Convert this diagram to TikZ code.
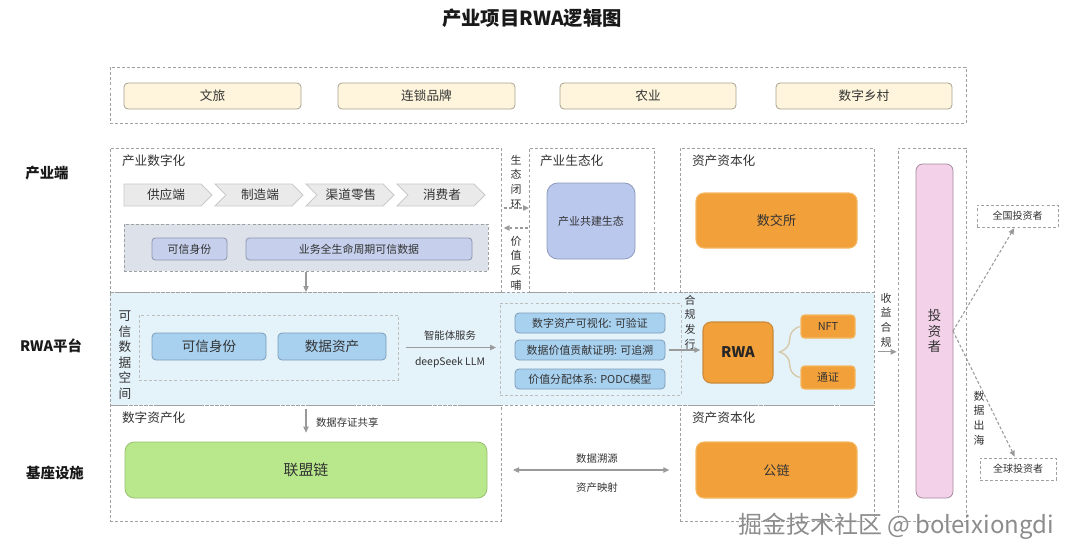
\documentclass[tikz,border=0pt]{standalone}
\usepackage{fontspec}
\setmainfont{Noto Sans CJK SC}
\usetikzlibrary{arrows.meta,decorations.pathreplacing,calc}
\definecolor{txt}{HTML}{333333}
\definecolor{dashc}{HTML}{A0A0A0}
\definecolor{ybfill}{HTML}{FEF5DC}
\definecolor{ybdraw}{HTML}{A8A290}
\definecolor{chevfill}{HTML}{EAEAEA}
\definecolor{chevdraw}{HTML}{C9C9C9}
\definecolor{gbfill}{HTML}{DCE1EA}
\definecolor{lavfill}{HTML}{C6D0EC}
\definecolor{lavdraw}{HTML}{8E97AE}
\definecolor{gjfill}{HTML}{BAC8EE}
\definecolor{gjdraw}{HTML}{8C99BA}
\definecolor{bandfill}{HTML}{E4F2FA}
\definecolor{bluefill}{HTML}{A8D1F0}
\definecolor{bluedraw}{HTML}{7D9DB8}
\definecolor{orfill}{HTML}{F2A03A}
\definecolor{ordraw}{HTML}{F5B862}
\definecolor{ordark}{HTML}{C98A3A}
\definecolor{greenfill}{HTML}{B8E88B}
\definecolor{greendraw}{HTML}{98C070}
\definecolor{pinkfill}{HTML}{F3D1E8}
\definecolor{pinkdraw}{HTML}{A58BA0}
\definecolor{arrc}{HTML}{9A9A9A}
\definecolor{bracec}{HTML}{D6C7A5}
\begin{document}
\begin{tikzpicture}[x=0.75pt,y=-0.75pt,
  sz/.style 2 args={minimum width=#1*0.75pt, minimum height=#2*0.75pt},
  base/.style={inner sep=0pt, outer sep=0pt, text=txt},
  dbox/.style={base, draw=dashc, dash pattern=on 2.2pt off 1.6pt, line width=0.6pt},
  ybox/.style={base, draw=ybdraw, fill=ybfill, rounded corners=3pt, line width=0.6pt, font=\fontsize{9.5}{11}\selectfont},
  lavbox/.style={base, draw=lavdraw, fill=lavfill, rounded corners=2.5pt, line width=0.6pt, font=\fontsize{8.2}{10}\selectfont},
  bluebox/.style={base, draw=bluedraw, fill=bluefill, rounded corners=3pt, line width=0.6pt},
  orbox/.style={base, draw=ordraw, fill=orfill, rounded corners=6pt, line width=0.8pt},
  sect/.style={base, anchor=west, font=\fontsize{9.5}{11}\selectfont},
  rowlab/.style={base, font=\fontsize{10.8}{12}\selectfont\bfseries, text=black!90},
  small/.style={base, font=\fontsize{7.8}{9}\selectfont},
  vtxt/.style={base, align=center, font=\fontsize{8.2}{11}\selectfont},
  arr/.style={draw=arrc, line width=0.8pt, -{Triangle[length=4.5pt,width=4pt]}},
  darr/.style={arr, dash pattern=on 2.2pt off 1.6pt},
  chev/.style={draw=chevdraw, fill=chevfill, line width=0.6pt}
]
\useasboundingbox (0,0) rectangle (1080,558);
\fill[white] (0,0) rectangle (1080,558);

% title
\node[base, font=\fontsize{14.5}{16}\selectfont\bfseries, text=black!90] (title) at (532,18) {产业项目RWA逻辑图};

% top industries
\node[dbox, sz={856}{56}] (topbox) at (538,95) {};
\node[ybox, sz={177}{26}] (wl) at (212.5,96) {文旅};
\node[ybox, sz={177}{26}] (ls) at (426.5,96) {连锁品牌};
\node[ybox, sz={176}{26}] (ny) at (648,96) {农业};
\node[ybox, sz={176}{26}] (sx) at (864,96) {数字乡村};

% row labels
\node[rowlab] (r1) at (47,173) {产业端};
\node[rowlab] (r2) at (51,346) {RWA平台};
\node[rowlab] (r3) at (55,473) {基座设施};

% platform band
\node[dbox, fill=bandfill, sz={764}{113}] (band) at (492,348.5) {};

% column boxes
\node[dbox, sz={391}{144}] (szh) at (305.5,220) {};
\node[dbox, sz={125}{144}] (sth) at (591.5,220) {};
\node[dbox, sz={194}{144}] (zb1) at (777,220) {};
\node[dbox, sz={68}{373}] (inv) at (932,334.5) {};
\node[dbox, sz={391}{116}] (szc) at (305.5,463) {};
\node[dbox, sz={194}{116}] (zb2) at (777,463) {};

\node[sect] (t1) at (122,161) {产业数字化};
\node[sect] (t2) at (540,161) {产业生态化};
\node[sect] (t3) at (692,161) {资产资本化};
\node[sect] (t4) at (122,418) {数字资产化};
\node[sect] (t5) at (692,418) {资产资本化};

% chevrons
\draw[chev] (124,184) -- (201,184) -- (212,195) -- (201,206) -- (124,206) -- cycle;
\draw[chev] (215,184) -- (292,184) -- (303,195) -- (292,206) -- (215,206) -- (226,195) -- cycle;
\draw[chev] (306,184) -- (383,184) -- (394,195) -- (383,206) -- (306,206) -- (317,195) -- cycle;
\draw[chev] (397,184) -- (474,184) -- (485,195) -- (474,206) -- (397,206) -- (408,195) -- cycle;
\node[base, font=\fontsize{9.5}{11}\selectfont] (c1) at (166,195) {供应端};
\node[base, font=\fontsize{9.5}{11}\selectfont] (c2) at (260,195) {制造端};
\node[base, font=\fontsize{9.5}{11}\selectfont] (c3) at (351,195) {渠道零售};
\node[base, font=\fontsize{9.5}{11}\selectfont] (c4) at (442,195) {消费者};

% gray band
\node[dbox, fill=gbfill, sz={364}{47}] (gb) at (306,247.5) {};
\node[lavbox, sz={75}{22}] (k1) at (189.5,249) {可信身份};
\node[lavbox, sz={226}{22}] (k2) at (359,249) {业务全生命周期可信数据};
\draw[arr, shorten <=1pt] (gb.south) -- (gb.south |- band.north);

% eco loop
\node[vtxt] (eco1) at (516,182) {生\\态\\闭\\环};
\node[vtxt] (eco2) at (516,263) {价\\值\\反\\哺};
\draw[darr, shorten <=2pt] ([yshift=9pt]szh.east) -- ([yshift=9pt]sth.west);
\draw[darr, shorten <=1pt, shorten >=2pt] ([yshift=-6pt]sth.west) -- ([yshift=-6pt]szh.east);

\node[base, draw=gjdraw, fill=gjfill, rounded corners=8pt, line width=0.6pt, sz={88}{76}, font=\fontsize{8.2}{10}\selectfont] (gj) at (591,221) {产业共建生态};
\node[orbox, sz={161}{55}, font=\fontsize{9.8}{11}\selectfont] (sjs) at (776.5,220.5) {数交所};

% platform contents
\node[base, align=center, font=\fontsize{9.5}{11.6}\selectfont] (kxs) at (125,355) {可\\信\\数\\据\\空\\间};
\node[dbox, draw=dashc!70, sz={259}{65}] (ib) at (268.5,347.5) {};
\node[bluebox, sz={114}{27}, font=\fontsize{10.2}{12}\selectfont] (p1) at (209,346.5) {可信身份};
\node[bluebox, sz={108}{27}, font=\fontsize{10.2}{12}\selectfont] (p2) at (332,346.5) {数据资产};

\node[dbox, draw=dashc!70, sz={181}{92}] (vb) at (590.5,349) {};
\node[bluebox, sz={150}{20}, font=\fontsize{8.2}{10}\selectfont] (v1) at (590,323) {数字资产可视化: 可验证};
\node[bluebox, sz={150}{20}, font=\fontsize{8.2}{10}\selectfont] (v2) at (590,350) {数据价值贡献证明: 可追溯};
\node[bluebox, sz={150}{20}, font=\fontsize{8.2}{10}\selectfont] (v3) at (590,379) {价值分配体系: PODC模型};

\draw[arr, shorten <=6pt, shorten >=3pt] (ib.east) -- (ib.east -| vb.west);
\node[small] (ai1) at (450,336) {智能体服务};
\node[small] (ai2) at (450,363) {deepSeek LLM};

\node[vtxt] (hg) at (690,322) {合\\规\\发\\行};
\node[orbox, draw=ordark, sz={70}{61}, font=\fontsize{11}{12}\selectfont\bfseries, text=black!85] (rwa) at (738,352.5) {RWA};
\draw[arr, shorten <=3pt, shorten >=2pt] (v2.east) -- (v2.east -| rwa.west);
\node[orbox, rounded corners=2.5pt, sz={54}{23}, font=\fontsize{8.2}{10}\selectfont] (nft) at (828,326.5) {NFT};
\node[orbox, rounded corners=2.5pt, sz={54}{23}, font=\fontsize{8.2}{10}\selectfont] (tzz) at (828,377.5) {通证};
\draw[draw=bracec, line width=1pt, decorate, decoration={brace, amplitude=15pt}] ([xshift=-1pt]tzz.west) -- ([xshift=-1pt]nft.west);

\node[vtxt] (sy) at (886,320) {收\\益\\合\\规};
\draw[arr, shorten <=3pt, shorten >=1pt] ([yshift=-2.5pt]band.east) -- ([yshift=-2.5pt]band.east -| inv.west);

% investors
\node[base, draw=pinkdraw, fill=pinkfill, rounded corners=5pt, line width=0.6pt, sz={37}{334}, align=center, font=\fontsize{10}{11.4}\selectfont] (bar) at (934.5,331) {投\\资\\者};
\node[dbox, fill=white, sz={81}{22}, font=\fontsize{7.5}{9}\selectfont] (qg) at (1017.5,216) {全国投资者};
\node[dbox, fill=white, sz={76}{22}, font=\fontsize{7.5}{9}\selectfont] (qq) at (1018,469) {全球投资者};
\draw[darr, shorten >=1pt] (bar.east) -- ([xshift=-2pt]qg.south);
\draw[darr, shorten >=1pt] (bar.east) -- ([xshift=-2pt]qq.north);
\node[vtxt] (ch) at (979,418) {数\\据\\出\\海};

% bottom
\node[base, draw=greendraw, fill=greenfill, rounded corners=7pt, line width=0.6pt, sz={362}{56}, font=\fontsize{11.2}{13}\selectfont] (llc) at (306,470) {联盟链};
\node[orbox, sz={161}{56}, font=\fontsize{9.8}{11}\selectfont] (gl) at (776.5,470) {公链};
\draw[arr, shorten <=3pt, shorten >=7pt] (llc.north |- band.south) -- (llc.north);
\node[small, anchor=west] (cz) at (316,423) {数据存证共享};
\draw[arr, {Triangle[length=4.5pt,width=4pt]}-{Triangle[length=4.5pt,width=4pt]}, shorten <=19.5pt, shorten >=20pt] (llc.east) -- (gl.west);
\node[small] (sy1) at (597,459) {数据溯源};
\node[small] (sy2) at (597,488) {资产映射};

% watermark
\node[base, text=black!45, font=\fontsize{18}{20}\selectfont] (wm) at (896,526) {掘金技术社区 @ boleixiongdi};
\end{tikzpicture}
\end{document}
